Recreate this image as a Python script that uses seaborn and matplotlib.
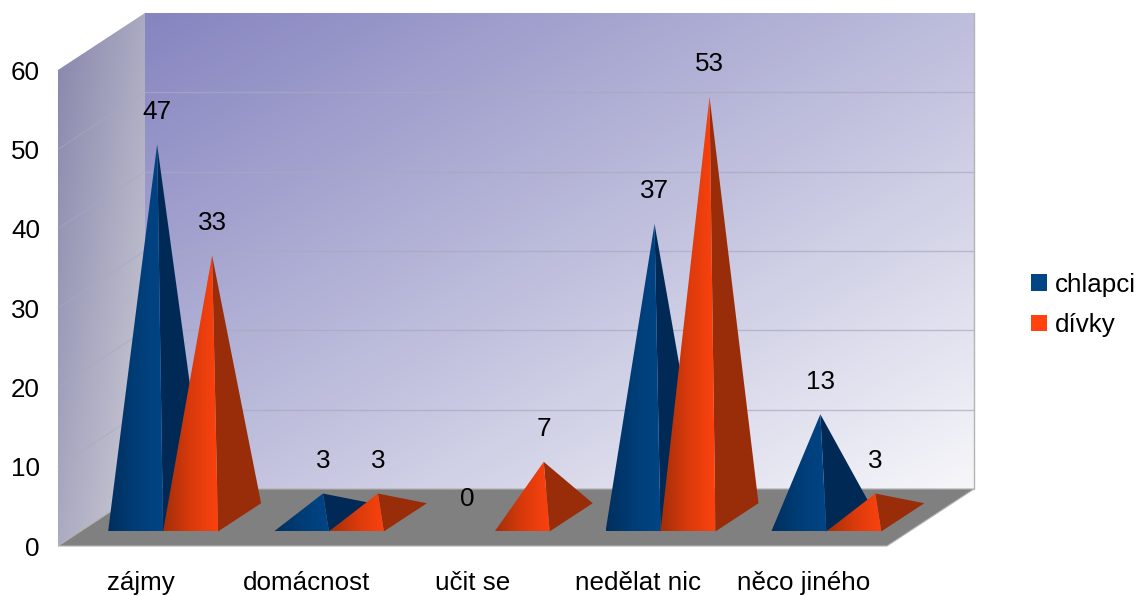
import numpy as np
import pandas as pd
import matplotlib
matplotlib.use("Agg")
import matplotlib.pyplot as plt
from matplotlib.colors import LinearSegmentedColormap
from matplotlib.patches import Patch, Polygon
import seaborn as sns

categories = ["zájmy", "domácnost", "učit se", "nedělat nic", "něco jiného"]
chlapci = [47, 3, 0, 37, 13]
divky = [33, 3, 7, 53, 3]
y_ticks = [0, 10, 20, 30, 40, 50, 60]

# depth of the fake 3d box, in data units (one category / one count)
DEPTH_X = 87 / 165.8
DEPTH_Y = 57 / 7.93
BASE_FRONT = 0.255
BASE_BACK = 0.75

sns.set_theme(style="white")
plt.rcParams['font.family'] = ['Liberation Sans', 'DejaVu Sans']

df = pd.DataFrame({
    "kategorie": categories * 2,
    "pocet": chlapci + divky,
    "pohlavi": ["chlapci"] * 5 + ["dívky"] * 5,
})

fig = plt.figure(figsize=(11.39, 5.96), dpi=100)
ax = fig.add_axes([58 / 1139, 50 / 596, 829 / 1139, 476 / 596])

# bars only give the positions, the pyramids are built on them
sns.barplot(data=df, x="kategorie", y="pocet", hue="pohlavi", width=0.663, gap=0,
            palette=["#004586", "#ff420e"], legend=False, ax=ax)
bars = [[(b.get_x(), b.get_width(), b.get_height()) for b in c] for c in ax.containers]
for c in ax.containers:
    c.remove()

ax.set_xlim(-0.5, 4.5)
ax.set_ylim(0, 60)
ax.set_autoscale_on(False)
ax.patch.set_visible(False)
sns.despine(ax=ax, left=True, bottom=True)


def proj(x, v, d):
    return (x + d * DEPTH_X, v + d * DEPTH_Y)


def fill_gradient(points, image, cmap, z):
    poly = Polygon(points, closed=True, transform=ax.transData, facecolor="none", edgecolor="none")
    ax.add_patch(poly)
    poly.set_clip_on(False)
    xs = [p[0] for p in points]
    ys = [p[1] for p in points]
    im = ax.imshow(image, extent=(min(xs), max(xs), min(ys), max(ys)), origin="lower",
                   aspect="auto", cmap=cmap, vmin=0, vmax=1, zorder=z, interpolation="bilinear")
    # images stop at the axes box unless the clip box is the whole figure
    im.set_clip_box(fig.bbox)
    im.set_clip_path(poly)


u, v = np.meshgrid(np.linspace(0, 1, 120), np.linspace(0, 1, 120))
diagonal = (u + (1 - v)) / 2
wall_cmap = LinearSegmentedColormap.from_list("wall", ["#8785c0", "#bdbddc", "#f6f6fa"])
side_cmap = LinearSegmentedColormap.from_list("side", ["#8786ac", "#cfcfd8"])

# walls and floor
x0, x1 = -0.5, 4.5
back = [proj(x0, 0, 1), proj(x1, 0, 1), proj(x1, 60, 1), proj(x0, 60, 1)]
side = [proj(x0, 0, 0), proj(x0, 0, 1), proj(x0, 60, 1), proj(x0, 60, 0)]
floor = [proj(x0, 0, 0), proj(x1, 0, 0), proj(x1, 0, 1), proj(x0, 0, 1)]
fill_gradient(back, diagonal, wall_cmap, 1)
fill_gradient(side, diagonal, side_cmap, 1)
ax.add_patch(Polygon(floor, closed=True, facecolor="#808080", edgecolor="#b3b3b3", lw=0.8,
                     zorder=2, clip_on=False))

for val in y_ticks[1:-1]:
    ax.plot(*zip(proj(x0, val, 1), proj(x1, val, 1)), color="#a9a9c0", lw=1, alpha=0.7, zorder=1.5, clip_on=False)
    ax.plot(*zip(proj(x0, val, 0), proj(x0, val, 1)), color="#a9a9c0", lw=0.8, alpha=0.6, zorder=1.5, clip_on=False)
ax.plot(*zip(proj(x1, 0, 1), proj(x1, 60, 1)), color="#b3b3b3", lw=1, zorder=1.5, clip_on=False)

# pyramids
face_cmaps = [
    LinearSegmentedColormap.from_list("blue", ["#002f5e", "#003d76", "#004586"]),
    LinearSegmentedColormap.from_list("orange", ["#a22f08", "#d93a0c", "#fb420e"]),
]
side_colors = ["#002a55", "#992d09"]
ramp = np.linspace(0, 1, 80).reshape(1, -1)

z = 3
for s, series in enumerate(bars):
    for left, width, height in series:
        mid_depth = (BASE_FRONT + BASE_BACK) / 2
        apex = proj(left + width / 2, height, mid_depth)
        # labels sit above the front of the pyramid, so a zero stays at the front edge
        if height > 0:
            label_x, label_y = apex[0], apex[1] + 4.1
        else:
            label_x, label_y = proj(left + width / 2, 4.1, BASE_FRONT)
        ax.text(label_x, label_y, f"{height:.0f}", ha="center", va="center", fontsize=18.7,
                color="black", zorder=20, clip_on=False)
        if height == 0:
            continue
        a = proj(left, 0, BASE_FRONT)
        b = proj(left + width, 0, BASE_FRONT)
        c = proj(left + width, 0, BASE_BACK)
        ax.add_patch(Polygon([b, c, apex], closed=True, facecolor=side_colors[s], edgecolor="none",
                             zorder=z, clip_on=False))
        fill_gradient([a, b, apex], ramp, face_cmaps[s], z + 0.5)
        z += 1

ax.set_xlim(-0.5, 4.5)
ax.set_ylim(0, 60)
ax.set_xlabel("")
ax.set_ylabel("")
ax.set_xticks(range(len(categories)), categories)
ax.set_yticks(y_ticks)
ax.tick_params(axis="x", length=0, pad=18, labelsize=18.7, colors="black")
ax.tick_params(axis="y", length=0, pad=13, labelsize=18.7, colors="black")

handles = [Patch(facecolor="#004586", edgecolor="none", label="chlapci"),
           Patch(facecolor="#ff420e", edgecolor="none", label="dívky")]
fig.legend(handles=handles, loc="upper left", bbox_to_anchor=(1031 / 1139, 1 - 273 / 596),
           frameon=False, fontsize=18.7, handlelength=0.62, handleheight=0.62,
           handletextpad=0.28, labelspacing=0.62, borderpad=0, borderaxespad=0,
           labelcolor="black")

fig.savefig("out.png", dpi=100)
